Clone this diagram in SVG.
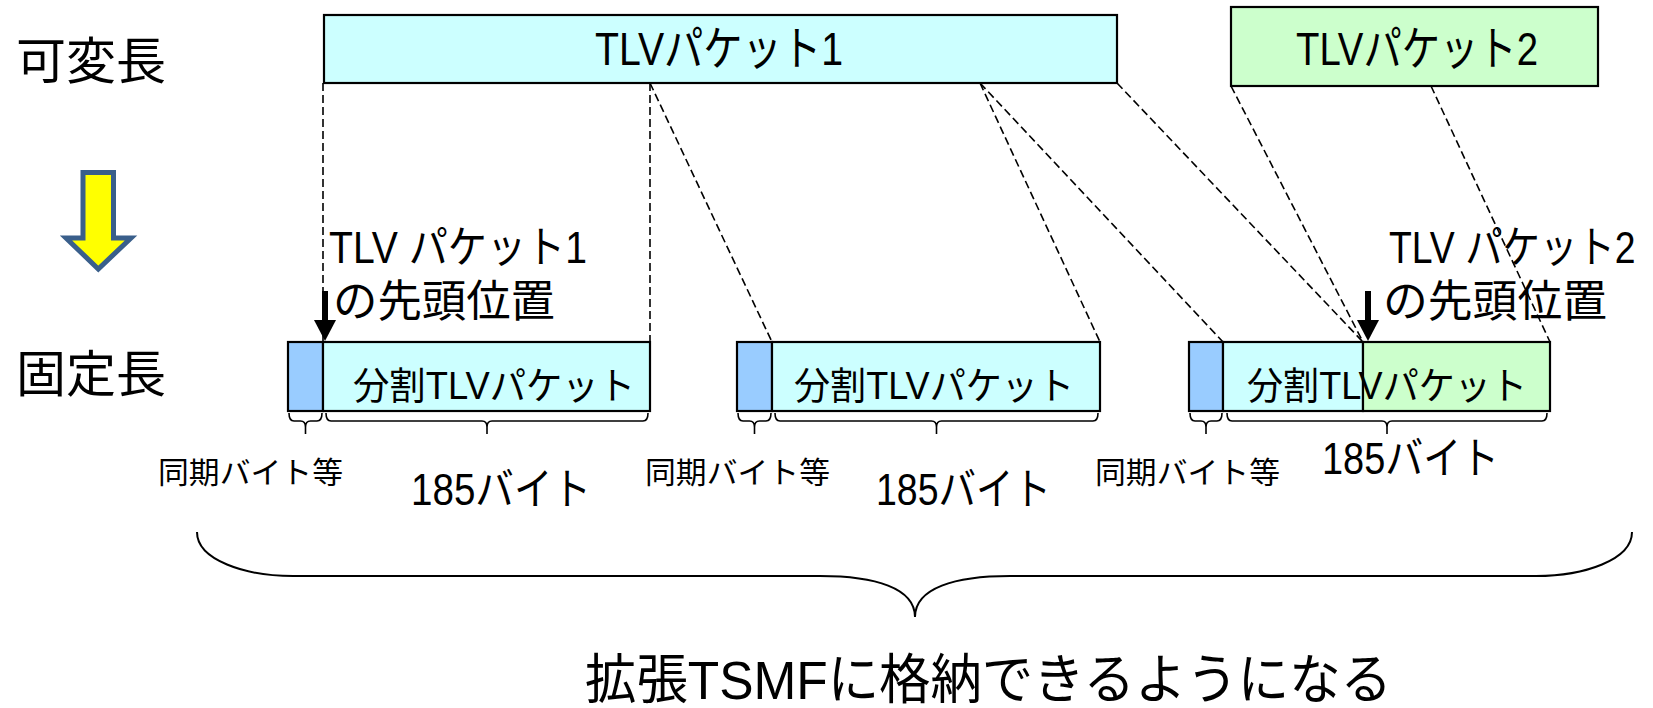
<svg xmlns="http://www.w3.org/2000/svg" width="1653" height="708" viewBox="0 0 1653 708">
<defs>
<style>
text{font-family:"Liberation Sans","Noto Sans CJK JP",sans-serif;fill:#000}
.box{stroke:#000;stroke-width:2.2}
.cy{fill:#CCFFFF}
.gr{fill:#CCFFCC}
.sy{fill:#99CCFF}
.dash{fill:none;stroke:#000;stroke-width:1.6;stroke-dasharray:8,4}
.br{fill:none;stroke:#000;stroke-width:1.6}
.big{fill:none;stroke:#000;stroke-width:2}
.lab{font-size:30px}
.cnt{font-size:44px}
.seg{font-size:38px}
.ttl{font-size:50px}
.pin{stroke:#000;stroke-width:6}
</style>
</defs>
<rect width="1653" height="708" fill="#fff"/>

<g id="label-variable"><text class="ttl" x="16" y="79" textLength="150" lengthAdjust="spacingAndGlyphs">可変長</text></g>
<g id="label-fixed"><text class="ttl" x="16" y="392" textLength="150" lengthAdjust="spacingAndGlyphs">固定長</text></g>

<g id="transform-arrow">
<path d="M83,172.5 H113.5 V238 H131 L98.3,269 L66,238 H83 Z" fill="#FFFF00" stroke="#3A5F8B" stroke-width="5"/>
</g>

<g id="connectors">
<line class="dash" x1="323" y1="83" x2="323" y2="342"/>
<line class="dash" x1="650" y1="83" x2="650" y2="342"/>
<line class="dash" x1="650" y1="83" x2="772" y2="342"/>
<line class="dash" x1="980" y1="83" x2="1100" y2="342"/>
<line class="dash" x1="980" y1="83" x2="1223" y2="342"/>
<line class="dash" x1="1117" y1="83" x2="1363" y2="342"/>
<line class="dash" x1="1231" y1="86" x2="1363" y2="342"/>
<line class="dash" x1="1431" y1="86" x2="1550" y2="342"/>
</g>

<g id="tlv-packet-1">
<rect class="box cy" x="324" y="15" width="793" height="68"/>
<text x="595" y="65" font-size="47" textLength="248" lengthAdjust="spacingAndGlyphs">TLVパケット1</text>
</g>

<g id="tlv-packet-2">
<rect class="box gr" x="1231" y="7" width="367" height="79"/>
<text x="1296" y="65" font-size="47" textLength="242" lengthAdjust="spacingAndGlyphs">TLVパケット2</text>
</g>

<g id="fixed-1">
<rect class="box sy" x="288" y="342" width="35" height="69"/>
<rect class="box cy" x="323" y="342" width="327" height="69"/>
<text class="seg" x="353" y="399" textLength="282" lengthAdjust="spacingAndGlyphs">分割TLVパケット</text>
<path class="br" d="M289,413 Q289,421 294,421 H300.5 Q305.5,421 305.5,427 V434 M305.5,427 Q305.5,421 310.5,421 H317 Q322,421 322,413"/>
<path class="br" d="M326,413 Q326,421 331,421 H482 Q487,421 487,427 V434 M487,427 Q487,421 492,421 H643 Q648,421 648,413"/>
<text class="lab" x="158" y="483" textLength="185" lengthAdjust="spacingAndGlyphs">同期バイト等</text>
<text class="cnt" x="411" y="505" textLength="180" lengthAdjust="spacingAndGlyphs">185バイト</text>
</g>

<g id="fixed-2">
<rect class="box sy" x="737" y="342" width="35" height="69"/>
<rect class="box cy" x="772" y="342" width="328" height="69"/>
<text class="seg" x="794" y="399" textLength="280" lengthAdjust="spacingAndGlyphs">分割TLVパケット</text>
<path class="br" d="M738,413 Q738,421 743,421 H749.5 Q754.5,421 754.5,427 V434 M754.5,427 Q754.5,421 759.5,421 H766 Q771,421 771,413"/>
<path class="br" d="M775,413 Q775,421 780,421 H931.5 Q936.5,421 936.5,427 V434 M936.5,427 Q936.5,421 941.5,421 H1093 Q1098,421 1098,413"/>
<text class="lab" x="645" y="483" textLength="185" lengthAdjust="spacingAndGlyphs">同期バイト等</text>
<text class="cnt" x="876" y="505" textLength="175" lengthAdjust="spacingAndGlyphs">185バイト</text>
</g>

<g id="fixed-3">
<rect class="box sy" x="1189" y="342" width="34" height="69"/>
<rect class="box cy" x="1223" y="342" width="140" height="69"/>
<rect class="box gr" x="1363" y="342" width="187" height="69"/>
<text class="seg" x="1247" y="399" textLength="280" lengthAdjust="spacingAndGlyphs">分割TLVパケット</text>
<path class="br" d="M1190,413 Q1190,421 1195,421 H1201 Q1206,421 1206,427 V434 M1206,427 Q1206,421 1211,421 H1217 Q1222,421 1222,413"/>
<path class="br" d="M1227,413 Q1227,421 1232,421 H1382 Q1387,421 1387,427 V434 M1387,427 Q1387,421 1392,421 H1542 Q1547,421 1547,413"/>
<text class="lab" x="1095" y="483" textLength="185" lengthAdjust="spacingAndGlyphs">同期バイト等</text>
<text class="cnt" x="1322" y="474" textLength="177" lengthAdjust="spacingAndGlyphs">185バイト</text>
</g>

<g id="start-marker-1">
<line class="pin" x1="325" y1="291" x2="325" y2="324"/>
<polygon points="314,320 336,320 325,341" fill="#000"/>
<text class="cnt" x="329" y="263" textLength="258" lengthAdjust="spacingAndGlyphs">TLV パケット1</text>
<text class="cnt" x="333" y="317" textLength="222" lengthAdjust="spacingAndGlyphs">の先頭位置</text>
</g>

<g id="start-marker-2">
<line class="pin" x1="1368" y1="291" x2="1368" y2="324"/>
<polygon points="1357,320 1379,320 1368,341" fill="#000"/>
<text class="cnt" transform="translate(1389,263) scale(0.85,1)" x="0" y="0">TLV パケット2</text>
<text class="cnt" x="1383" y="317" textLength="224" lengthAdjust="spacingAndGlyphs">の先頭位置</text>
</g>

<g id="summary">
<path class="big" d="M197,532 C197,560 245,576 293,576 H820 C875,576 915,588 915,617 C915,588 955,576 1010,576 H1536 C1584,576 1632,560 1632,532"/>
<text x="585" y="699" font-size="54" textLength="807" lengthAdjust="spacingAndGlyphs">拡張TSMFに格納できるようになる</text>
</g>
</svg>
